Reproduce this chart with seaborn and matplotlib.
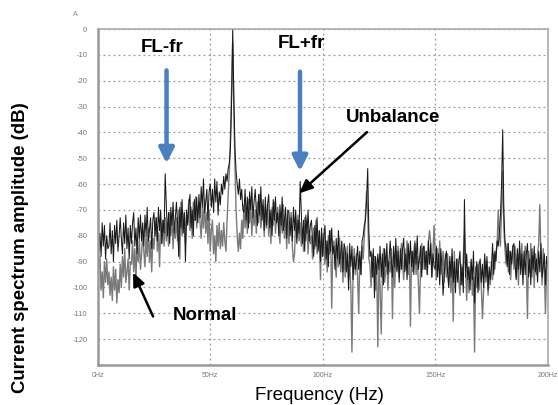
import numpy as np
import pandas as pd
import matplotlib
matplotlib.use("Agg")
import matplotlib.pyplot as plt
import seaborn as sns

# ---------------- data (0.5 Hz bins, 0..200 Hz) ----------------
freq_start = 0.0
freq_step = 0.5

unbalance_db = [
    -52, -86, -79, -88, -75, -84, -76, -89, -80, -85,
    -84, -75, -87, -78, -90, -76, -83, -74, -86, -80,
    -73, -81, -87, -75, -83, -72, -85, -77, -89, -76,
    -83, -75, -71, -84, -77, -87, -73, -81, -72, -82,
    -75, -84, -72, -80, -69, -82, -78, -73, -85, -74,
    -71, -80, -73, -82, -69, -78, -70, -83, -74, -79,
    -56, -68, -80, -71, -83, -69, -76, -67, -79, -73,
    -67, -75, -88, -69, -77, -66, -79, -71, -90, -70,
    -76, -68, -64, -77, -70, -80, -66, -74, -65, -75,
    -64, -73, -61, -69, -58, -71, -67, -62, -74, -63,
    -60, -69, -62, -71, -58, -67, -59, -72, -63, -68,
    -60, -64, -57, -62, -56, -59, -54, -52, -46, -28,
    0, -26, -46, -55, -60, -64, -58, -66, -62, -70,
    -71, -62, -74, -65, -77, -63, -70, -61, -73, -67,
    -62, -70, -76, -64, -72, -61, -74, -66, -78, -65,
    -76, -68, -64, -77, -70, -80, -66, -74, -65, -75,
    -71, -80, -68, -76, -65, -78, -74, -69, -81, -70,
    -71, -80, -73, -82, -69, -78, -70, -83, -74, -79,
    -59, -71, -83, -74, -86, -72, -79, -70, -82, -76,
    -74, -82, -88, -76, -84, -73, -86, -78, -90, -77,
    -88, -80, -76, -89, -82, -92, -78, -86, -77, -87,
    -84, -93, -81, -89, -78, -91, -87, -82, -94, -83,
    -85, -94, -87, -101, -83, -92, -84, -97, -88, -93,
    -90, -84, -93, -86, -95, -82, -80, -76, -74, -66,
    -54, -78, -88, -86, -96, -85, -104, -88, -95, -87,
    -93, -84, -96, -87, -99, -85, -92, -83, -95, -89,
    -82, -90, -96, -84, -92, -81, -94, -86, -98, -85,
    -93, -85, -81, -94, -87, -97, -83, -91, -82, -92,
    -86, -95, -83, -91, -80, -93, -89, -84, -96, -85,
    -84, -93, -86, -95, -82, -91, -83, -96, -87, -92,
    -93, -84, -96, -87, -99, -85, -92, -103, -95, -89,
    -86, -94, -100, -88, -96, -85, -98, -90, -102, -89,
    -98, -90, -86, -99, -92, -102, -66, -96, -87, -97,
    -92, -101, -89, -97, -86, -106, -95, -90, -102, -91,
    -89, -98, -91, -100, -87, -96, -88, -101, -92, -97,
    -92, -83, -95, -86, -90, -82, -84, -79, -72, -60,
    -39, -70, -82, -85, -92, -83, -95, -86, -91, -84,
    -83, -91, -97, -85, -93, -82, -95, -87, -99, -86,
    -95, -87, -83, -96, -89, -99, -85, -93, -84, -94,
    -89, -98, -86, -94, -83, -96, -92, -87, -99, -88,
    -92,
]

normal_db = [
    -88, -92, -88, -101, -94, -104, -90, -98, -89, -99,
    -94, -103, -96, -105, -92, -101, -93, -106, -97, -102,
    -91, -100, -88, -96, -85, -98, -94, -89, -101, -90,
    -91, -82, -94, -85, -97, -83, -90, -81, -93, -87,
    -78, -86, -92, -80, -88, -77, -90, -82, -94, -81,
    -85, -77, -73, -86, -79, -92, -75, -83, -74, -84,
    -73, -82, -75, -84, -71, -80, -72, -85, -76, -81,
    -73, -82, -70, -89, -67, -80, -76, -71, -83, -72,
    -75, -66, -78, -69, -81, -67, -74, -65, -77, -71,
    -67, -75, -81, -69, -77, -66, -79, -71, -83, -70,
    -86, -78, -74, -87, -80, -90, -76, -84, -75, -85,
    -78, -84, -75, -82, -86, -74, -64, -55, -42, -24,
    -5, -31, -53, -70, -80, -86, -79, -85, -74, -81,
    -68, -77, -70, -79, -66, -75, -67, -80, -71, -76,
    -70, -79, -67, -75, -64, -77, -73, -68, -80, -69,
    -77, -68, -80, -71, -83, -69, -76, -67, -79, -73,
    -69, -77, -83, -71, -79, -68, -81, -73, -85, -72,
    -83, -75, -71, -84, -90, -87, -73, -81, -72, -82,
    -75, -84, -77, -86, -73, -82, -74, -87, -78, -83,
    -80, -89, -77, -85, -74, -87, -83, -78, -97, -79,
    -88, -79, -91, -82, -94, -80, -87, -78, -108, -84,
    -82, -90, -96, -84, -92, -81, -94, -86, -98, -85,
    -96, -88, -84, -97, -90, -100, -125, -94, -85, -95,
    -87, -96, -110, -88, -95, -84, -89, -80, -72, -63,
    -70, -89, -91, -100, -87, -96, -88, -101, -92, -123,
    -91, -100, -118, -96, -85, -98, -94, -89, -101, -90,
    -94, -85, -112, -88, -100, -86, -93, -84, -96, -90,
    -83, -91, -97, -85, -93, -82, -95, -87, -115, -86,
    -94, -86, -82, -95, -88, -98, -110, -92, -83, -93,
    -84, -93, -86, -95, -82, -78, -83, -96, -87, -76,
    -88, -97, -85, -93, -82, -95, -91, -86, -98, -87,
    -96, -87, -99, -90, -102, -88, -113, -86, -98, -92,
    -89, -97, -103, -91, -99, -88, -80, -93, -105, -92,
    -102, -94, -90, -103, -96, -125, -92, -100, -91, -101,
    -91, -100, -112, -102, -89, -98, -90, -103, -94, -99,
    -90, -97, -87, -93, -86, -84, -70, -80, -84, -69,
    -55, -77, -85, -91, -83, -94, -86, -97, -89, -84,
    -93, -84, -96, -87, -99, -85, -92, -83, -95, -89,
    -84, -92, -112, -86, -94, -83, -96, -88, -100, -87,
    -95, -87, -83, -68, -89, -99, -85, -93, -110, -94,
    -91,
]

y_ticks = [0, -10, -20, -30, -40, -50, -60, -70, -80, -90, -100, -110, -120]
x_ticks = [0, 50, 100, 150, 200]
x_tick_labels = ["0Hz", "50Hz", "100Hz", "150Hz", "200Hz"]

freq = freq_start + freq_step * np.arange(len(unbalance_db))
df_u = pd.DataFrame({"freq": freq, "amp": unbalance_db})
df_n = pd.DataFrame({"freq": freq, "amp": normal_db})

# ---------------- figure ----------------
sns.set_style("white")
plt.rcParams["font.family"] = ["Liberation Sans", "DejaVu Sans"]
plt.rcParams["text.color"] = "black"

fig = plt.figure(figsize=(5.58, 4.05), dpi=100)
ax = fig.add_axes([97.7 / 558, 1 - 365 / 405, 450 / 558, 336 / 405])

sns.lineplot(data=df_n, x="freq", y="amp", ax=ax, color="#7a7a7a",
             linewidth=1.0, estimator=None, sort=False)
sns.lineplot(data=df_u, x="freq", y="amp", ax=ax, color="#1a1a1a",
             linewidth=0.75, estimator=None, sort=False)

ax.set_xlim(0, 200)
ax.set_ylim(-130, 0)
ax.set_yticks(y_ticks)
ax.set_yticklabels([str(v) for v in y_ticks], color="#777777", fontsize=5.5)
ax.set_xticks(x_ticks)
ax.set_xticklabels(x_tick_labels, color="#777777", fontsize=5)
ax.set_xticks(np.arange(0, 201, 10), minor=True)
ax.tick_params(axis="y", which="major", length=6, color="#999999", pad=1.5)
ax.tick_params(axis="x", which="major", length=0, pad=5)
ax.tick_params(axis="x", which="minor", length=2, color="#999999")

ax.grid(True, which="major", axis="both", linestyle=(0, (1.5, 2.5)),
        color="#999999", linewidth=0.9)
ax.set_axisbelow(True)

for side in ["left", "bottom"]:
    ax.spines[side].set_color("#999999")
    ax.spines[side].set_linewidth(1.8)
for side in ["top", "right"]:
    ax.spines[side].set_color("#aaaaaa")
    ax.spines[side].set_linewidth(1.2)
    ax.spines[side].set_visible(True)

ax.set_xlabel("")
ax.set_ylabel("")

fig.text(319 / 558, 1 - 396 / 405, "Frequency (Hz)", ha="center", va="center",
         fontsize=13.5, color="black")
fig.text(20.5 / 558, 1 - 248 / 405, "Current spectrum amplitude (dB)",
         ha="center", va="center", rotation=90, fontsize=13.4,
         fontweight="bold", color="black")
fig.text(75.7 / 558, 1 - 15 / 405, "A", ha="center", va="center",
         fontsize=5, color="#888888")

# annotations
blue = "#4a7fc1"
ax.annotate("", xy=(30.6, -52), xytext=(30.6, -16),
            arrowprops=dict(arrowstyle="-|>,head_length=0.9,head_width=0.45",
                            color=blue, lw=3.2, shrinkA=0, shrinkB=0))
ax.annotate("", xy=(89.9, -55), xytext=(89.9, -16.5),
            arrowprops=dict(arrowstyle="-|>,head_length=0.9,head_width=0.45",
                            color=blue, lw=3.2, shrinkA=0, shrinkB=0))
ax.text(28.6, -7, "FL-fr", ha="center", va="center", fontsize=13.5,
        fontweight="bold", color="black")
ax.text(90.4, -5.6, "FL+fr", ha="center", va="center", fontsize=13.5,
        fontweight="bold", color="black")

ax.annotate("", xy=(89.5, -63.6), xytext=(119.7, -39.9),
            arrowprops=dict(arrowstyle="-|>,head_length=0.8,head_width=0.35",
                            color="black", lw=1.8, shrinkA=0, shrinkB=0))
ax.text(131.4, -34.1, "Unbalance", ha="center", va="center", fontsize=13.5,
        fontweight="bold", color="black")

ax.annotate("", xy=(15.7, -94.2), xytext=(24.6, -111.2),
            arrowprops=dict(arrowstyle="-|>,head_length=0.8,head_width=0.35",
                            color="black", lw=1.8, shrinkA=0, shrinkB=0))
ax.text(47.5, -110.9, "Normal", ha="center", va="center", fontsize=13.5,
        fontweight="bold", color="black")

fig.savefig("out.png", dpi=100)
